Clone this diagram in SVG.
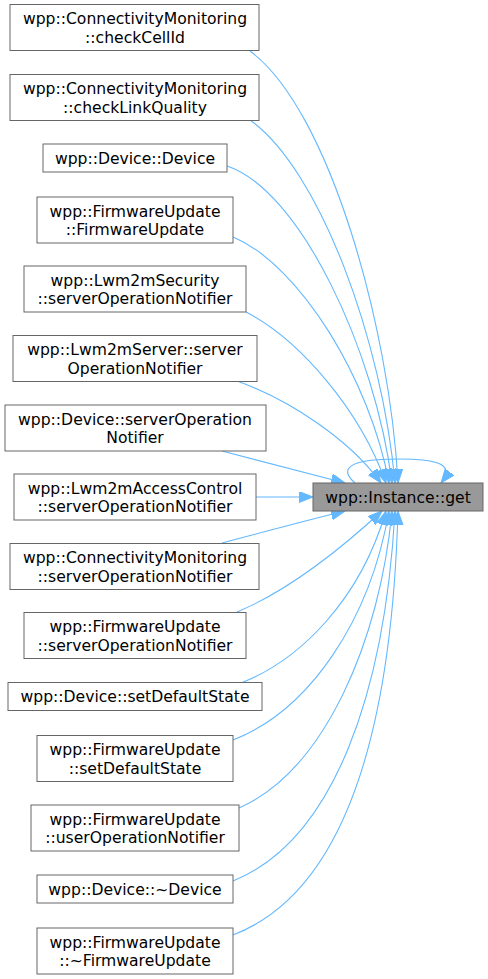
<svg xmlns="http://www.w3.org/2000/svg" width="488" height="979" viewBox="0 0 488 979">
<style>
.n rect{fill:#ffffff;stroke:#666666;stroke-width:1}
.t rect{fill:#999999;stroke:#666666;stroke-width:1}
text{font-family:"DejaVu Sans",sans-serif;font-size:15.6px;fill:#000000;text-anchor:middle}
.e path{fill:none;stroke:#63b8ff;stroke-width:1.1}
</style>
<defs>
<marker id="ah" markerUnits="userSpaceOnUse" markerWidth="16" markerHeight="12" refX="14" refY="5.5" orient="auto">
<path d="M0,0 L14,5.5 L0,11 Z" fill="#63b8ff" stroke="#63b8ff" stroke-width="1"/>
</marker>
</defs>
<rect width="488" height="979" fill="#ffffff"/>
<g id="edges" class="e">
<path marker-end="url(#ah)" d="M250,51 C330,110 390,330 398,483"/>
<path marker-end="url(#ah)" d="M250,120 C320,170 382,340 395,483"/>
<path marker-end="url(#ah)" d="M227,166 C300,190 375,350 392,483"/>
<path marker-end="url(#ah)" d="M233,237 C300,265 370,380 389,483"/>
<path marker-end="url(#ah)" d="M246,312 C300,340 360,410 386,483"/>
<path marker-end="url(#ah)" d="M237,381 C290,400 350,440 381,483"/>
<path marker-end="url(#ah)" d="M222,451 C260,461 300,471 345,483"/>
<path marker-end="url(#ah)" d="M256,497 L313,497"/>
<path marker-end="url(#ah)" d="M222,543 C260,533 300,522 345,511"/>
<path marker-end="url(#ah)" d="M237,612 C290,590 345,545 382,511"/>
<path marker-end="url(#ah)" d="M241,683 C300,660 360,600 386,511"/>
<path marker-end="url(#ah)" d="M233,740 C310,710 370,620 389,511"/>
<path marker-end="url(#ah)" d="M239,808 C325,770 380,640 392,511"/>
<path marker-end="url(#ah)" d="M233,881 C335,840 385,690 395,511"/>
<path marker-end="url(#ah)" d="M233,935 C350,890 392,720 398,511"/>
<path marker-end="url(#ah)" d="M355,483 C340,470 345,459 398,459 C440,459 455,465 441,483"/>
</g>
<g id="target" class="t"><rect x="313" y="483" width="170" height="28"/><text x="398" y="502.6">wpp::Instance::get</text></g>
<g id="n1" class="n"><rect x="10" y="4.5" width="249" height="46"/><text x="135" y="24">wpp::ConnectivityMonitoring</text><text x="135" y="42.5">::checkCellId</text></g>
<g id="n2" class="n"><rect x="10" y="74.5" width="249" height="46"/><text x="135" y="94">wpp::ConnectivityMonitoring</text><text x="135" y="112.5">::checkLinkQuality</text></g>
<g id="n3" class="n"><rect x="43" y="144" width="184" height="28"/><text x="135" y="163.6">wpp::Device::Device</text></g>
<g id="n4" class="n"><rect x="37" y="197" width="196" height="46"/><text x="135" y="216.5">wpp::FirmwareUpdate</text><text x="135" y="235">::FirmwareUpdate</text></g>
<g id="n5" class="n"><rect x="24" y="266" width="222" height="46"/><text x="135" y="285.5">wpp::Lwm2mSecurity</text><text x="135" y="304">::serverOperationNotifier</text></g>
<g id="n6" class="n"><rect x="13" y="335.5" width="244" height="46"/><text x="135" y="355">wpp::Lwm2mServer::server</text><text x="135" y="373.5">OperationNotifier</text></g>
<g id="n7" class="n"><rect x="5" y="405" width="261" height="46"/><text x="135" y="424.5">wpp::Device::serverOperation</text><text x="135" y="443">Notifier</text></g>
<g id="n8" class="n"><rect x="14" y="474" width="242" height="46"/><text x="135" y="493.5">wpp::Lwm2mAccessControl</text><text x="135" y="512">::serverOperationNotifier</text></g>
<g id="n9" class="n"><rect x="10" y="543.5" width="249" height="46"/><text x="135" y="563">wpp::ConnectivityMonitoring</text><text x="135" y="581.5">::serverOperationNotifier</text></g>
<g id="n10" class="n"><rect x="24" y="612.5" width="222" height="46"/><text x="135" y="632">wpp::FirmwareUpdate</text><text x="135" y="650.5">::serverOperationNotifier</text></g>
<g id="n11" class="n"><rect x="8" y="682.5" width="254" height="28"/><text x="135" y="702.1">wpp::Device::setDefaultState</text></g>
<g id="n12" class="n"><rect x="37" y="735.5" width="196" height="46"/><text x="135" y="755">wpp::FirmwareUpdate</text><text x="135" y="773.5">::setDefaultState</text></g>
<g id="n13" class="n"><rect x="31" y="805" width="208" height="46"/><text x="135" y="824.5">wpp::FirmwareUpdate</text><text x="135" y="843">::userOperationNotifier</text></g>
<g id="n14" class="n"><rect x="37" y="875" width="196" height="28"/><text x="135" y="894.6">wpp::Device::~Device</text></g>
<g id="n15" class="n"><rect x="37" y="928" width="196" height="46"/><text x="135" y="947.5">wpp::FirmwareUpdate</text><text x="135" y="966">::~FirmwareUpdate</text></g>
</svg>
